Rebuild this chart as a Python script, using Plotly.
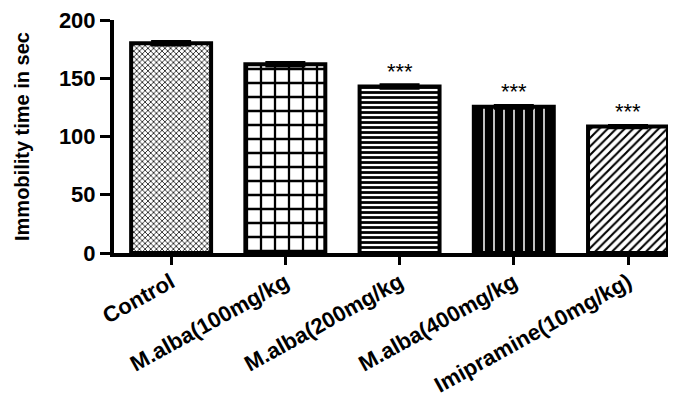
import plotly.graph_objects as go

categories = ["Control", "M.alba(100mg/kg", "M.alba(200mg/kg", "M.alba(400mg/kg", "Imipramine(10mg/kg)"]
values = [180, 162, 143, 125.5, 108.5]
errors = [1.5, 1.5, 1.5, 1.2, 1.0]
significance = ["", "", "***", "***", "***"]
y_ticks = [0, 50, 100, 150, 200]

patterns = ["x", "+", "-", "|", "/"]
pattern_sizes = [4, 14, 5, 10, 6]
pattern_solidity = [0.35, 0.3, 0.55, 0.85, 0.35]

fig = go.Figure()
fig.add_trace(go.Bar(
    x=categories, y=values, width=0.7,
    marker=dict(
        color="white",
        line=dict(color="black", width=4),
        pattern=dict(shape=patterns, size=pattern_sizes, solidity=pattern_solidity,
                     fgcolor="black", bgcolor="white", fgopacity=1, fillmode="replace"),
    ),
    error_y=dict(type="data", array=errors, visible=True, color="black", thickness=3, width=20),
    showlegend=False,
))

for c, v, e, s in zip(categories, values, errors, significance):
    if s:
        fig.add_annotation(x=c, y=v + e, text=s, showarrow=False, yanchor="bottom",
                           yshift=-1, font=dict(family="Liberation Sans, Arial", size=22, color="black"))

# page body has an 8px default margin, so margins are compensated
fig.update_layout(
    width=676, height=403,
    margin=dict(l=106, r=8, t=12, b=158),
    plot_bgcolor="white", paper_bgcolor="white",
    font=dict(family="Liberation Sans, Arial", color="black"),
)
fig.update_xaxes(
    range=[-0.5, 4.42], showline=True, linecolor="black", linewidth=4,
    ticks="outside", ticklen=8, tickwidth=3, tickcolor="black",
    tickangle=-29, ticklabelstandoff=-4, automargin=False, ticklabeloverflow="allow",
    tickfont=dict(size=22, family="Liberation Sans, Arial", weight="bold"),
    showgrid=False, zeroline=False,
)
fig.update_yaxes(
    range=[0, 200], tickvals=y_ticks, showline=True, linecolor="black", linewidth=4,
    ticks="outside", ticklen=10, tickwidth=3, tickcolor="black", automargin=False,
    ticklabeloverflow="allow",
    tickfont=dict(size=22, family="Liberation Sans, Arial", weight="bold"),
    showgrid=False, zeroline=False,
    title=dict(text="Immobility time in sec", standoff=25,
               font=dict(size=20, family="Liberation Sans Narrow, Liberation Sans, Arial", weight="bold")),
)

fig.write_html("out.html")
